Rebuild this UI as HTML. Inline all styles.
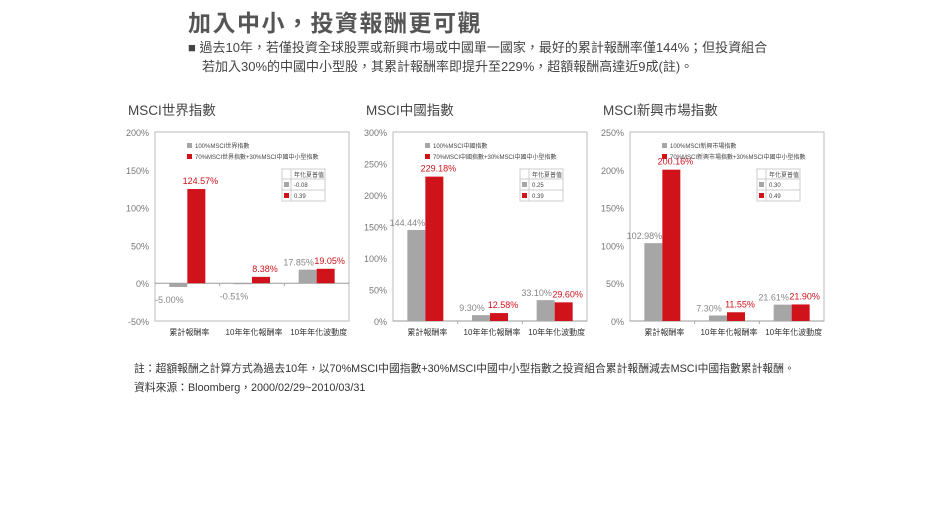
<!DOCTYPE html>
<html><head><meta charset="utf-8">
<style>
body{margin:0;background:#fff;width:950px;height:530px;overflow:hidden;font-family:"Liberation Sans","Noto Sans CJK TC",sans-serif;color:#444;position:relative}
.abs{position:absolute;white-space:nowrap}
</style></head><body>
<div class="abs" style="left:188px;top:4px;font-size:23px;font-weight:bold;color:#555;letter-spacing:1.5px">加入中小，投資報酬更可觀</div>
<div class="abs" style="left:188px;top:37px;font-size:13px;color:#444">■ 過去10年，若僅投資全球股票或新興市場或中國單一國家，最好的累計報酬率僅144%；但投資組合</div>
<div class="abs" style="left:202px;top:56px;font-size:13px;color:#444">若加入30%的中國中小型股，其累計報酬率即提升至229%，超額報酬高達近9成(註)。</div>
<div class="abs" style="left:134px;top:360px;font-size:10.8px;color:#333">註：超額報酬之計算方式為過去10年，以70%MSCI中國指數+30%MSCI中國中小型指數之投資組合累計報酬減去MSCI中國指數累計報酬。</div>
<div class="abs" style="left:134px;top:379px;font-size:10.8px;color:#333">資料來源：Bloomberg，2000/02/29~2010/03/31</div>
<svg id="svg" width="950" height="530" style="position:absolute;left:0;top:0"></svg>
<script>
const categories=["累計報酬率","10年年化報酬率","10年年化波動度"];
const titles=["MSCI世界指數","MSCI中國指數","MSCI新興市場指數"];
const grayLegend=["100%MSCI世界指數","100%MSCI中國指數","100%MSCI新興市場指數"];
const redLegend=["70%MSCI世界指數+30%MSCI中國中小型指數","70%MSCI中國指數+30%MSCI中國中小型指數","70%MSCI新興市場指數+30%MSCI中國中小型指數"];
const grayValues=[[-5.00,-0.51,17.85],[144.44,9.30,33.10],[102.98,7.30,21.61]];
const redValues=[[124.57,8.38,19.05],[229.18,12.58,29.60],[200.16,11.55,21.90]];
const sharpeGray=["-0.08","0.25","0.30"];
const sharpeRed=["0.39","0.39","0.49"];
const yMin=[-50,0,0];
const yMax=[200,300,250];
const yStep=[50,50,50];
const NS="http://www.w3.org/2000/svg";
const svg=document.getElementById('svg');
function mk(t,a,p,txt){const e=document.createElementNS(NS,t);for(const k in a)e.setAttribute(k,a[k]);if(txt!==undefined)e.textContent=txt;(p||svg).appendChild(e);return e;}
const lefts=[155,393,630];
const W=194,TOP=132,BOT=321;
const GRAY="#a6a6a6",RED="#d0121b";
for(let c=0;c<3;c++){
  const L=lefts[c];
  const g=mk('g',{});
  
  
  const y=v=>BOT-(v-yMin[c])/(yMax[c]-yMin[c])*(BOT-TOP);
  const t=mk('text',{x:L-27,y:115,'font-size':13.5,fill:'#444'},g,titles[c]);
  
  
  const fr=mk('rect',{x:L,y:TOP,width:W,height:BOT-TOP,fill:'none',stroke:'#bbb','stroke-width':1},g);
  
  
  for(let v=yMin[c];v<=yMax[c];v+=yStep[c]){
    const tk=mk('text',{x:L-6,y:y(v)+4,'text-anchor':'end','font-size':9,fill:'#777'},g,v+'%');
    
    
  }
  mk('line',{x1:L,x2:L+W,y1:y(0),y2:y(0),stroke:'#999'},g);
  const gw=W/3;
  for(let i=0;i<3;i++){
    const cx=L+gw*(i+0.5);
    if(i>0)mk('line',{x1:L+gw*i,x2:L+gw*i,y1:y(0),y2:y(0)+3,stroke:'#aaa'},g);
    const gv=grayValues[c][i],rv=redValues[c][i];
    const b1=mk('rect',{x:cx-18,y:Math.min(y(gv),y(0)),width:18,height:Math.max(Math.abs(y(gv)-y(0)),1),fill:GRAY},g);
    
    
    const b2=mk('rect',{x:cx,y:Math.min(y(rv),y(0)),width:18,height:Math.max(Math.abs(y(rv)-y(0)),1),fill:RED},g);
    
    
    const gy=gv<0?y(gv)+16:y(gv)-4;
    const l1=mk('text',{x:cx-18,y:gy,'text-anchor':'middle','font-size':9,fill:'#888'},g,gv.toFixed(2)+'%');
    
    
    const l2=mk('text',{x:cx+13,y:y(rv)-5,'text-anchor':'middle','font-size':9,fill:RED},g,rv.toFixed(2)+'%');
    
    
    const xl=mk('text',{x:cx+2,y:335,'text-anchor':'middle','font-size':8,fill:'#333'},g,categories[i]);
    
    
  }
  mk('rect',{x:L+32,y:143,width:5,height:5,fill:GRAY},g);
  const lg1=mk('text',{x:L+40,y:148,'font-size':6,fill:'#444'},g,grayLegend[c]);
  
  
  mk('rect',{x:L+32,y:154,width:5,height:5,fill:RED},g);
  const lg2=mk('text',{x:L+40,y:159,'font-size':6,fill:'#444'},g,redLegend[c]);
  
  
  const tx=L+127,ty=169;
  const tb=mk('g',{},g);
  
  
  mk('rect',{x:tx,y:ty,width:43,height:32,fill:'#fff',stroke:'#ccc'},tb);
  mk('line',{x1:tx,x2:tx+43,y1:ty+10,y2:ty+10,stroke:'#ccc'},tb);
  mk('line',{x1:tx,x2:tx+43,y1:ty+21,y2:ty+21,stroke:'#ccc'},tb);
  mk('line',{x1:tx+9,x2:tx+9,y1:ty,y2:ty+32,stroke:'#ccc'},tb);
  mk('text',{x:tx+12,y:ty+8,'font-size':6,fill:'#444'},tb,'年化夏普值');
  mk('rect',{x:tx+2,y:ty+13,width:5,height:5,fill:GRAY},tb);
  mk('text',{x:tx+12,y:ty+18,'font-size':6,fill:'#444'},tb,sharpeGray[c]);
  mk('rect',{x:tx+2,y:ty+24,width:5,height:5,fill:RED},tb);
  mk('text',{x:tx+12,y:ty+29,'font-size':6,fill:'#444'},tb,sharpeRed[c]);
}
</script>
</body></html>
